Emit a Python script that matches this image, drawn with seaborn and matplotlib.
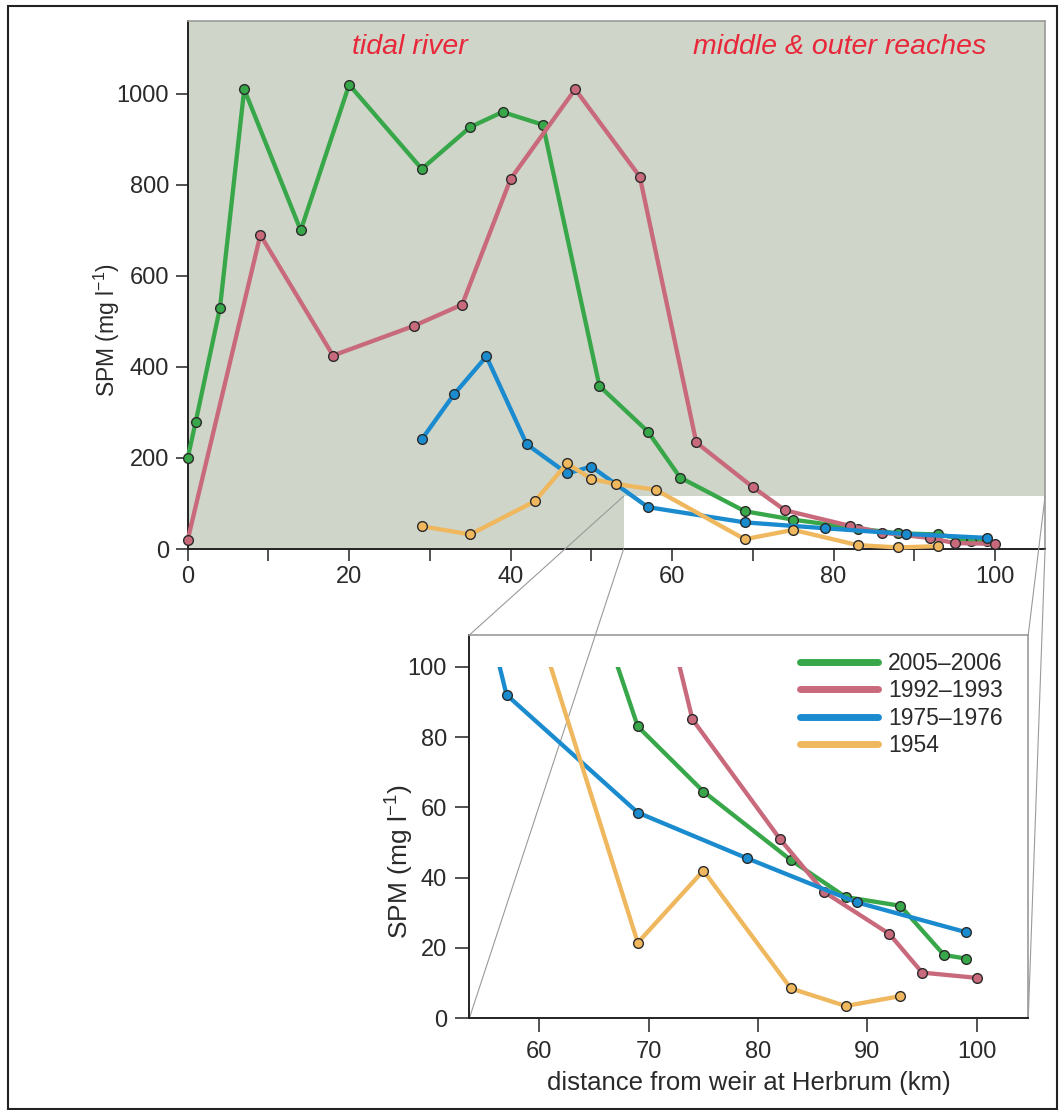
import numpy as np
import pandas as pd
import matplotlib
matplotlib.use("Agg")
import matplotlib.pyplot as plt
import seaborn as sns
from matplotlib.patches import Rectangle, ConnectionPatch
from matplotlib.lines import Line2D
from matplotlib.ticker import MultipleLocator

# values (km from weir, SPM in mg/l)
periods = ['2005–2006', '1992–1993', '1975–1976', '1954']
colors = ['#38a749', '#c86a7c', '#1a8bcf', '#efb75e']

km_2005 = [0, 1, 4, 7, 14, 20, 29, 35, 39, 44, 51, 57, 61, 69, 75, 83, 88, 93, 97, 99]
spm_2005 = [200, 280, 530, 1010, 700, 1020, 835, 927, 960, 932, 358, 258, 157,
            83, 64.5, 45, 34.5, 32, 18, 17]

km_1992 = [0, 9, 18, 28, 34, 40, 48, 56, 63, 70, 74, 82, 86, 92, 95, 100]
spm_1992 = [20, 690, 425, 490, 537, 813, 1010, 818, 234, 136, 85, 51, 36, 24, 13, 11.5]

km_1975 = [29, 33, 37, 42, 47, 50, 57, 69, 79, 89, 99]
spm_1975 = [241, 340, 423, 230, 166, 181, 92, 58.5, 45.5, 33, 24.5]

km_1954 = [29, 35, 43, 47, 50, 53, 58, 69, 75, 83, 88, 93]
spm_1954 = [50, 32, 105, 188, 154, 143, 130, 21.5, 42, 8.5, 3.5, 6.3]

main_xticks = [0, 20, 40, 60, 80, 100]
main_yticks = [0, 200, 400, 600, 800, 1000]
inset_xticks = [60, 70, 80, 90, 100]
inset_yticks = [0, 20, 40, 60, 80, 100]

df = pd.concat([
    pd.DataFrame({'km': km_2005, 'spm': spm_2005, 'period': periods[0]}),
    pd.DataFrame({'km': km_1992, 'spm': spm_1992, 'period': periods[1]}),
    pd.DataFrame({'km': km_1975, 'spm': spm_1975, 'period': periods[2]}),
    pd.DataFrame({'km': km_1954, 'spm': spm_1954, 'period': periods[3]}),
], ignore_index=True)

sns.set_theme(style='ticks')
plt.rcParams['font.family'] = ['Liberation Sans', 'DejaVu Sans']
plt.rcParams['mathtext.fontset'] = 'custom'
plt.rcParams['mathtext.rm'] = 'Liberation Sans'
plt.rcParams['mathtext.it'] = 'Liberation Sans:italic'

txt = '#2a2a2a'
grey = '#9a9a9a'

fig = plt.figure(figsize=(10.64, 11.10), dpi=100)
ax = fig.add_axes([0.1764, 0.5054, 0.8058, 0.4757])
ax_in = fig.add_axes([0.4411, 0.0826, 0.5253, 0.3453])


def draw_series(a):
    sns.lineplot(data=df, x='km', y='spm', hue='period', hue_order=periods,
                 palette=colors, estimator=None, sort=False, lw=3.1,
                 marker='o', markersize=7, markeredgecolor='#2b2b2b',
                 markeredgewidth=1, legend=False, ax=a, zorder=3)


def style_axes(a):
    a.spines['left'].set_color('#222222')
    a.spines['bottom'].set_color('#222222')
    a.spines['left'].set_linewidth(1.4)
    a.spines['bottom'].set_linewidth(1.4)
    a.spines['top'].set_color(grey)
    a.spines['right'].set_color(grey)
    a.spines['top'].set_linewidth(1.2)
    a.spines['right'].set_linewidth(1.2)
    a.tick_params(axis='both', which='both', direction='out', length=8.5,
                  width=1.2, color='#333333', labelsize=17, labelcolor=txt)


# main panel
ax.set_facecolor('#cfd5c9')
zoom_x0, zoom_y1 = 54, 116
ax.set_xlim(0, 106.2)
ax.set_ylim(0, 1160)
ax.add_patch(Rectangle((zoom_x0, 0), 106.2 - zoom_x0, zoom_y1,
                       facecolor='white', edgecolor='none', zorder=1))
draw_series(ax)
for ln in ax.lines:
    ln.set_clip_on(False)
style_axes(ax)
ax.set_xticks(main_xticks)
ax.xaxis.set_minor_locator(MultipleLocator(10))
ax.set_yticks(main_yticks)
ax.tick_params(axis='x', which='both', pad=4)
ax.tick_params(axis='y', pad=5)
ax.set_xlabel('')
ax.set_ylabel('SPM (mg l$^{-1}$)', fontsize=16.5, color=txt)
ax.yaxis.set_label_coords(-0.077, 0.415)
ax.text(27.5, 1102, 'tidal river', color='#e8283a', fontsize=20.5,
        style='italic', ha='center', va='center')
ax.text(80.8, 1102, 'middle & outer reaches', color='#e8283a', fontsize=20.5,
        style='italic', ha='center', va='center')

# inset panel
ax_in.set_facecolor('white')
ax_in.set_xlim(53.6, 104.7)
ax_in.set_ylim(0, 109)
draw_series(ax_in)
clip_box = Rectangle((53.6, -5), 104.7 - 53.6, 105, transform=ax_in.transData)
for ln in ax_in.lines:
    ln.set_clip_path(clip_box)
style_axes(ax_in)
ax_in.set_xticks(inset_xticks)
ax_in.set_yticks(inset_yticks)
ax_in.tick_params(axis='both', length=10, pad=6)
ax_in.set_xlabel('distance from weir at Herbrum (km)', fontsize=18.5, color=txt,
                 labelpad=6)
ax_in.set_ylabel('SPM (mg l$^{-1}$)', fontsize=19, color=txt)
ax_in.yaxis.set_label_coords(-0.095, 0.408)

handles = [Line2D([], [], color=c, lw=5) for c in colors]
ax_in.legend(handles, periods, loc='upper right', bbox_to_anchor=(0.955, 0.955),
             frameon=False, fontsize=16.5, handlelength=3.4, handletextpad=0.45,
             labelspacing=0.18, borderpad=0, borderaxespad=0, labelcolor=txt)

# connector lines between zoom box and inset
corners = [((zoom_x0, zoom_y1), (0, 1)), ((zoom_x0, 0), (0, 0)),
           ((106.2, zoom_y1), (1, 1)), ((106.2, 0), (1, 0))]
for (xa, ya), (xb, yb) in corners:
    con = ConnectionPatch(xyA=(xb, yb), coordsA=ax_in.transAxes,
                          xyB=(xa, ya), coordsB=ax.transData,
                          color=grey, lw=0.8, zorder=1)
    ax_in.add_artist(con)
    con.set_clip_on(False)

# outer frame
fig.add_artist(Rectangle((7.5 / 1064, 1 - 1109 / 1110), (1057 - 7.5) / 1064,
                         (1109 - 5.5) / 1110, transform=fig.transFigure,
                         fill=False, edgecolor='#222222', lw=1.5))

fig.savefig('out.png', dpi=100)
